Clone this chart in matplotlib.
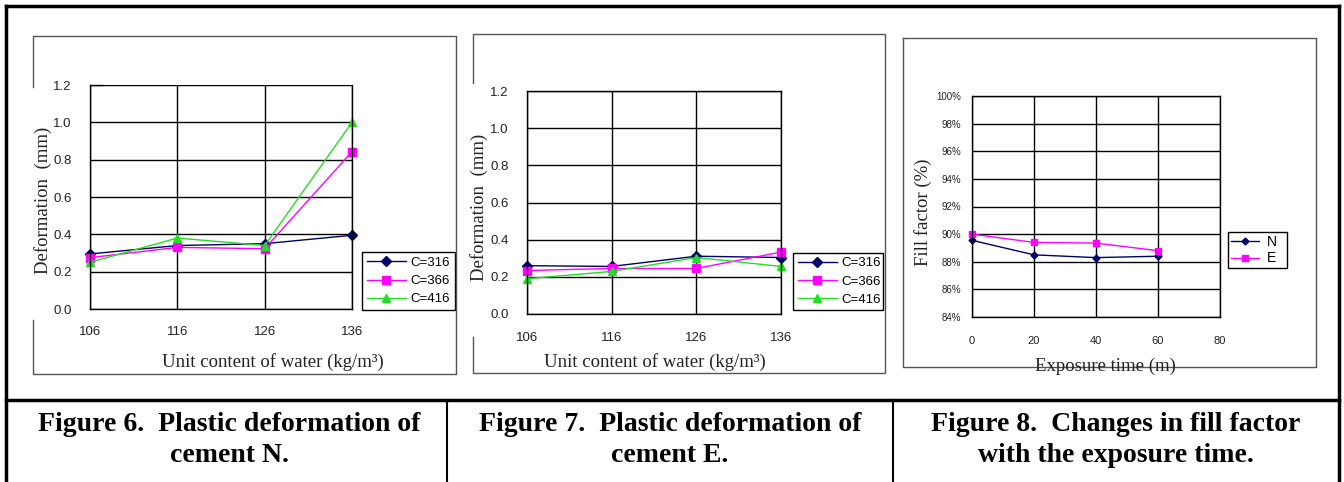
import matplotlib
matplotlib.use('Agg')
import matplotlib.pyplot as plt
from matplotlib.lines import Line2D
import numpy as np

# unit content of water (kg/m3) and the three cement contents
water = [106, 116, 126, 136]
cement_labels = ['C=316', 'C=366', 'C=416']

# plastic deformation (mm), cement N
defN_316 = [0.295, 0.34, 0.35, 0.395]
defN_366 = [0.275, 0.33, 0.323, 0.843]
defN_416 = [0.25, 0.38, 0.34, 1.00]

# plastic deformation (mm), cement E
defE_316 = [0.26, 0.256, 0.311, 0.304]
defE_366 = [0.234, 0.245, 0.245, 0.333]
defE_416 = [0.19, 0.229, 0.304, 0.256]

# fill factor (%) against exposure time (min)
exposure = [0, 20, 40, 60]
fill_N = [89.55, 88.5, 88.3, 88.4]
fill_E = [90.0, 89.4, 89.35, 88.8]

captions = ['Figure 6.  Plastic deformation of\ncement N.',
            'Figure 7.  Plastic deformation of\ncement E.',
            'Figure 8.  Changes in fill factor\nwith the exposure time.']

W, H = 1344, 482
fig = plt.figure(figsize=(W/100, H/100), dpi=100)
fig.patch.set_facecolor('white')

def rect(x0, y0, x1, y1):
    return [x0/W, 1-y1/H, (x1-x0)/W, (y1-y0)/H]

def fline(xs, ys, lw=1.0, c='black'):
    fig.add_artist(Line2D([x/W for x in xs], [1-y/H for y in ys], lw=lw, color=c))

# table borders
fline([6, 1339], [6, 6], lw=2.5)
fline([6, 6], [6, 482], lw=2.5)
fline([1339, 1339], [6, 482], lw=2.5)
fline([6, 1339], [400, 400], lw=2.5)
fline([447, 447], [400, 482], lw=1.5)
fline([893, 893], [400, 482], lw=1.5)

# picture frames (left edge broken behind the y label)
fc = '#555555'
fline([33, 33, 456, 456, 33, 33], [87, 36, 36, 374, 374, 320], lw=1, c=fc)
fline([473, 473, 885, 885, 473, 473], [83, 34, 34, 373, 373, 337], lw=1, c=fc)
fline([903, 1316, 1316, 903, 903], [38, 38, 367, 367, 38], lw=1, c=fc)

navy = '#000066'
mag = '#ff00ff'
grn = '#22dd22'
txtc = '#222222'

def setup_deform(ax, ylabel_xy, xlabel_xy):
    ax.set_xlim(106, 136)
    ax.set_ylim(0, 1.2)
    ax.set_xticks(water)
    ax.set_yticks(np.arange(0, 1.21, 0.2))
    ax.set_yticklabels(['%.1f' % v for v in np.arange(0, 1.21, 0.2)])
    ax.grid(True, color='black', lw=1)
    ax.tick_params(length=0, labelsize=9.5, labelcolor=txtc)
    for t in ax.get_xticklabels() + ax.get_yticklabels():
        t.set_family('Liberation Sans')
    for s in ax.spines.values():
        s.set_color('black')
        s.set_linewidth(1)
    fig.text(ylabel_xy[0]/W, 1-ylabel_xy[1]/H, 'Deformation  (mm)', rotation=90,
             ha='center', va='center', family='Liberation Serif', fontsize=13.5, color=txtc)
    fig.text(xlabel_xy[0]/W, 1-xlabel_xy[1]/H, 'Unit content of water (kg/m\u00b3)',
             ha='center', va='center', family='Liberation Serif', fontsize=13.5, color=txtc)

def draw_series(ax, s1, s2, s3, leg_box):
    ax.plot(water, s1, color=navy, lw=1, marker='D', ms=5, label=cement_labels[0], clip_on=False)
    ax.plot(water, s2, color=mag, lw=1, marker='s', ms=6, label=cement_labels[1], clip_on=False)
    ax.plot(water, s3, color=grn, lw=1, marker='^', ms=6, label=cement_labels[2], clip_on=False)
    x0, y0, x1, y1 = leg_box
    leg = ax.legend(loc='center', bbox_to_anchor=rect(x0, y0, x1, y1),
                    bbox_transform=fig.transFigure, mode='expand', fancybox=False,
                    framealpha=1, edgecolor='black', handlelength=3.0,
                    prop={'family': 'Liberation Sans', 'size': 9.5},
                    borderpad=0.35, labelspacing=0.45, handletextpad=0.35, borderaxespad=0)
    leg.get_frame().set_linewidth(1)

# cement N
ax1 = fig.add_axes(rect(90, 85, 352, 309))
setup_deform(ax1, (43, 200), (273, 362))
ax1.spines['top'].set_visible(False)
ax1.plot([106, 107.4], [1.2, 1.2], color='black', lw=1, clip_on=False)
ax1.tick_params(axis='y', pad=13)
ax1.tick_params(axis='x', pad=12)
draw_series(ax1, defN_316, defN_366, defN_416, (362, 248, 455, 314))

# cement E
ax2 = fig.add_axes(rect(527, 91, 781, 314))
setup_deform(ax2, (479, 207), (655, 362))
ax2.tick_params(axis='y', pad=13)
ax2.tick_params(axis='x', pad=13)
draw_series(ax2, defE_316, defE_366, defE_416, (793, 249, 883, 314))

# fill factor
ax3 = fig.add_axes(rect(972, 96, 1220, 317))
ax3.set_xlim(0, 80)
ax3.set_ylim(84, 100)
ax3.set_xticks([0, 20, 40, 60, 80])
ax3.set_yticks(np.arange(84, 101, 2))
ax3.set_yticklabels(['%d%%' % v for v in np.arange(84, 101, 2)])
ax3.grid(True, color='black', lw=1)
ax3.tick_params(length=0, labelsize=7, labelcolor=txtc)
ax3.tick_params(axis='x', labelsize=8)
ax3.tick_params(axis='y', pad=8)
ax3.tick_params(axis='x', pad=14)
for t in ax3.get_xticklabels() + ax3.get_yticklabels():
    t.set_family('Liberation Sans')
for s in ax3.spines.values():
    s.set_linewidth(1)
ax3.plot(exposure, fill_N, color=navy, lw=1, marker='D', ms=3.5, label='N', clip_on=False)
ax3.plot(exposure, fill_E, color=mag, lw=1, marker='s', ms=4.5, label='E', clip_on=False)
leg3 = ax3.legend(loc='center', bbox_to_anchor=rect(1228, 230, 1287, 270),
                  bbox_transform=fig.transFigure, mode='expand', fancybox=False,
                  framealpha=1, edgecolor='black', handlelength=2.0,
                  prop={'family': 'Liberation Sans', 'size': 10},
                  borderpad=0.2, labelspacing=0.2, handletextpad=0.6, borderaxespad=0)
leg3.get_frame().set_linewidth(1)
fig.text(923/W, 1-212/H, 'Fill factor (%)', rotation=90, ha='center', va='center',
         family='Liberation Serif', fontsize=13.5, color=txtc)
fig.text(1105/W, 1-366/H, 'Exposure time (m)', ha='center', va='center',
         family='Liberation Serif', fontsize=13.5, color=txtc)

# captions under each picture
for cx, txt in zip([229, 670, 1116], captions):
    fig.text(cx/W, 1-440/H, txt, ha='center', va='center', family='Liberation Serif',
             fontweight='bold', fontsize=20, linespacing=1.3)

fig.savefig('out.png', dpi=100)
